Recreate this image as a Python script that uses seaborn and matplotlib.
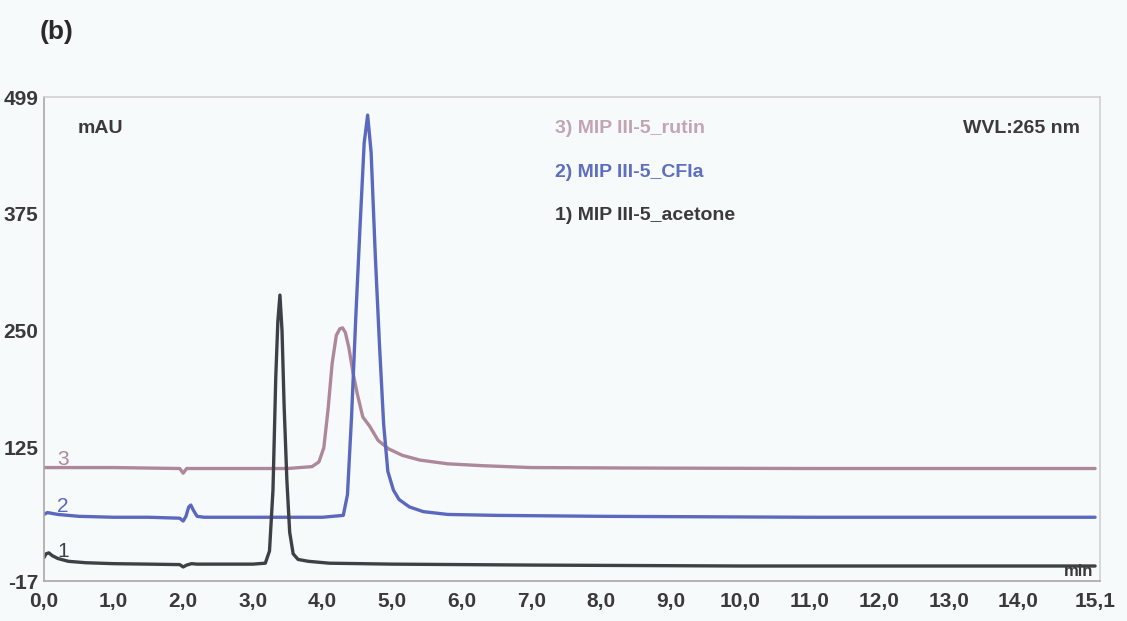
import pandas as pd
import matplotlib.pyplot as plt
import seaborn as sns
from matplotlib.ticker import MultipleLocator

# retention time (min) / absorbance (mAU)
acetone_t = [0.0, 0.03, 0.07, 0.12, 0.2, 0.35, 0.6, 1.0, 1.5, 1.95, 2.0, 2.05, 2.12, 2.2, 2.6,
             3.0, 3.18, 3.24, 3.29, 3.33, 3.36, 3.39, 3.42, 3.45, 3.49, 3.53, 3.58, 3.65, 3.8,
             4.1, 5.0, 7.0, 10.0, 13.0, 15.1]
acetone_v = [8, 12, 13, 10, 7, 4, 2.5, 1.5, 1, 0.5, -2, 0, 1.5, 1, 1,
             1, 2, 15, 80, 200, 260, 288, 250, 170, 90, 35, 12, 6, 4,
             2, 1, 0, -1, -1, -1]

cfia_t = [0.0, 0.05, 0.2, 0.5, 1.0, 1.5, 1.95, 2.0, 2.04, 2.08, 2.11, 2.15, 2.2, 2.3, 3.0,
          4.0, 4.3, 4.36, 4.42, 4.48, 4.54, 4.6, 4.65, 4.7, 4.76, 4.82, 4.88, 4.94, 5.02,
          5.1, 5.25, 5.45, 5.8, 6.5, 8.0, 11.0, 15.1]
cfia_v = [54, 56, 54, 52, 51, 51, 50, 47, 52, 62, 64, 58, 52, 51, 51,
          51, 53, 75, 160, 265, 360, 450, 480, 440, 330, 235, 150, 100, 80,
          70, 62, 57, 54, 53, 52, 51, 51]

rutin_t = [0.0, 1.0, 1.95, 2.0, 2.05, 2.5, 3.5, 3.85, 3.95, 4.02, 4.08, 4.14, 4.2, 4.25,
           4.29, 4.33, 4.38, 4.44, 4.5, 4.58, 4.68, 4.8, 4.95, 5.15, 5.4, 5.8, 6.3, 7.0,
           8.5, 11.0, 15.1]
rutin_v = [104, 104, 103, 98, 103, 103, 103, 105, 110, 125, 165, 215, 245, 252,
           253, 248, 232, 205, 183, 158, 148, 133, 124, 117, 112, 108, 106, 104,
           103.5, 103, 103]

series = ["3) MIP III-5_rutin", "2) MIP III-5_CFIa", "1) MIP III-5_acetone"]
colors = ["#ad8899", "#5a69bd", "#3d4145"]
text_colors = ["#c3a4b4", "#5e6ec0", "#3a3a3a"]
x_ticks = [0, 1, 2, 3, 4, 5, 6, 7, 8, 9, 10, 11, 12, 13, 14, 15.1]
x_labels = ["0,0", "1,0", "2,0", "3,0", "4,0", "5,0", "6,0", "7,0", "8,0", "9,0",
            "10,0", "11,0", "12,0", "13,0", "14,0", "15,1"]
y_ticks = [-17, 125, 250, 375, 499]

df = pd.concat([
    pd.DataFrame({"time": rutin_t, "mAU": rutin_v, "run": series[0]}),
    pd.DataFrame({"time": cfia_t, "mAU": cfia_v, "run": series[1]}),
    pd.DataFrame({"time": acetone_t, "mAU": acetone_v, "run": series[2]}),
])

sns.set_style("white")
plt.rcParams["font.family"] = ["Liberation Sans", "DejaVu Sans"]
bg = "#f7fafb"

fig = plt.figure(figsize=(11.27, 6.21), dpi=100, facecolor=bg)
ax = fig.add_axes([0.039, 0.0644, 0.937, 0.779])
ax.set_facecolor(bg)

sns.lineplot(data=df, x="time", y="mAU", hue="run", palette=dict(zip(series, colors)),
             linewidth=2.4, legend=False, ax=ax, sort=False, estimator=None)

ax.set_xlim(0, 15.17)
ax.set_ylim(-17, 499)
ax.set_xticks(x_ticks)
ax.set_xticklabels(x_labels)
ax.set_yticks(y_ticks)
ax.set_yticklabels([str(v) for v in y_ticks])
ax.xaxis.set_minor_locator(MultipleLocator(0.25))
ax.yaxis.set_minor_locator(MultipleLocator(25))
ax.set_xlabel("")
ax.set_ylabel("")

ax.tick_params(axis="x", which="major", labelsize=15, colors="#a8a8a8",
               labelcolor="#3a3a3a", length=5, width=1, direction="out", pad=3)
ax.tick_params(axis="y", which="major", labelsize=15, colors="#a8a8a8",
               labelcolor="#3a3a3a", length=3, width=1, direction="out", pad=1)
ax.tick_params(axis="both", which="minor", colors="#b8b8b8", length=3, width=1,
               direction="out")
for lab in ax.get_xticklabels() + ax.get_yticklabels():
    lab.set_fontweight("bold")

for side in ["left", "bottom"]:
    ax.spines[side].set_color("#a8a8a8")
    ax.spines[side].set_linewidth(1.2)
for side in ["top", "right"]:
    ax.spines[side].set_color("#d0d0d0")
    ax.spines[side].set_linewidth(1.2)

# labels inside the plot
ax.text(0.032, 0.936, "mAU", transform=ax.transAxes, fontsize=14, fontweight="bold",
        color="#3a3a3a", va="center", ha="left")
ax.text(0.981, 0.936, "WVL:265 nm", transform=ax.transAxes, fontsize=14,
        fontweight="bold", color="#3a3a3a", va="center", ha="right")
for name, col, yy in zip(series, text_colors, [0.936, 0.845, 0.756]):
    ax.text(0.484, yy, name, transform=ax.transAxes, fontsize=14, fontweight="bold",
            color=col, va="center", ha="left")

for num, col, yy in zip(["3", "2", "1"], colors, [113, 63, 15]):
    ax.text(0.27, yy, num, fontsize=15, color=col, va="center", ha="center")

ax.text(15.07, -7, "min", fontsize=12, fontweight="bold", color="#3a3a3a",
        va="center", ha="right")

fig.text(0.035, 0.948, "(b)", fontsize=19, fontweight="bold", color="#2a2a2a",
         va="center", ha="left")

fig.savefig("out.png", dpi=100, facecolor=bg)
